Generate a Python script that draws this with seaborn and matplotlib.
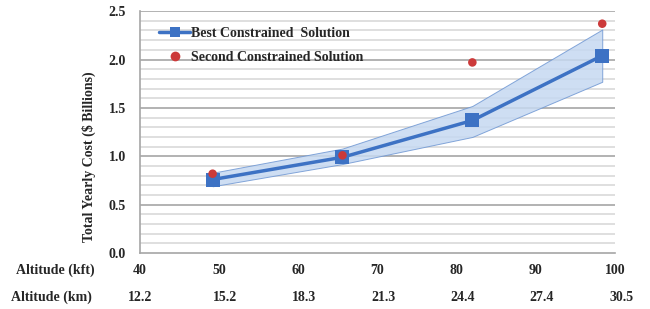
import matplotlib
matplotlib.use("Agg")
import matplotlib.pyplot as plt
from matplotlib.lines import Line2D
import numpy as np
import pandas as pd
import seaborn as sns

# Altitude of each design point (kft) and yearly cost ($ billions)
altitude_kft = [49.2, 65.6, 82.0, 98.4]
best_cost = [0.76, 0.99, 1.37, 2.04]
band_low = [0.69, 0.92, 1.20, 1.77]
band_high = [0.83, 1.08, 1.52, 2.31]
second_cost = [0.82, 1.01, 1.97, 2.37]

kft_ticks = [40, 50, 60, 70, 80, 90, 100]
km_labels = ["12.2", "15.2", "18.3", "21.3", "24.4", "27.4", "30.5"]
y_ticks = [0.0, 0.5, 1.0, 1.5, 2.0, 2.5]

BLUE = "#3d72c4"
BAND = "#c6d9f1"
RED = "#cc3a3a"

sns.set_theme(style="white")
plt.rcParams["font.family"] = ["Liberation Serif", "DejaVu Serif"]
plt.rcParams["font.weight"] = "bold"

df = pd.DataFrame({"alt": altitude_kft, "best": best_cost, "second": second_cost})

fig = plt.figure(figsize=(6.5, 3.09), dpi=100)
ax = fig.add_axes([0.215, 0.181, 0.731, 0.783])

# grid: light every 0.1, darker every 0.5
for v in np.arange(0.1, 2.55, 0.1):
    major = abs(v / 0.5 - round(v / 0.5)) < 1e-6
    ax.axhline(v, color="#a6a6a6" if major else "#d9d9d9", lw=1.2, zorder=0)

ax.fill_between(altitude_kft, band_low, band_high, color=BAND, alpha=0.85,
                edgecolor="#6f97d3", lw=0.7, zorder=1)
sns.lineplot(data=df, x="alt", y="best", color=BLUE, lw=2.5, marker="s",
             markersize=10.5, markeredgewidth=0, ax=ax, zorder=3)
sns.scatterplot(data=df, x="alt", y="second", color=RED, s=38, edgecolor="none",
                ax=ax, zorder=4)

ax.set_xlim(40, 100)
ax.set_ylim(0, 2.5)
ax.set_yticks(y_ticks)
ax.set_yticklabels([f"{v:.1f}" for v in y_ticks], fontsize=10, fontweight="bold")
ax.set_xticks(kft_ticks)
ax.set_xticklabels([])
ax.tick_params(axis="both", length=0, pad=10)
ax.set_xlabel("")
ax.set_ylabel("Total Yearly Cost ($ Billions)", fontsize=10, fontweight="bold")
ax.yaxis.set_label_coords(-0.093, 0.4)

for side in ["top", "right"]:
    ax.spines[side].set_visible(False)
for side in ["left", "bottom"]:
    ax.spines[side].set_color("#a6a6a6")
    ax.spines[side].set_linewidth(1.2)

# two rows of altitude labels under the axis
trans = ax.get_xaxis_transform()
for i, (k, km) in enumerate(zip(kft_ticks, km_labels)):
    ax.text(k, -0.072, str(k), transform=trans, ha="center", va="center",
            fontsize=10, fontweight="bold")
    ax.text(k + (0.8 if i else 0), -0.182, km, transform=trans, ha="center",
            va="center", fontsize=10, fontweight="bold")
fig.text(0.146, 1 - 270 / 309, "Altitude (kft)", ha="right", va="center",
         fontsize=10, fontweight="bold")
fig.text(0.142, 1 - 297 / 309, "Altitude (km)", ha="right", va="center",
         fontsize=10, fontweight="bold")

handles = [
    Line2D([0], [0], color=BLUE, lw=2.5, marker="s", markersize=7,
           markeredgewidth=0),
    Line2D([0], [0], color=RED, lw=0, marker="o", markersize=7,
           markeredgewidth=0),
]
ax.legend(handles, ["Best Constrained  Solution", "Second Constrained Solution"],
          loc="upper left", bbox_to_anchor=(0.015, 0.985), frameon=False,
          prop={"size": 10, "weight": "bold"}, handlelength=2.2,
          handletextpad=0.1, labelspacing=0.75)

fig.savefig("out.png", dpi=100)
